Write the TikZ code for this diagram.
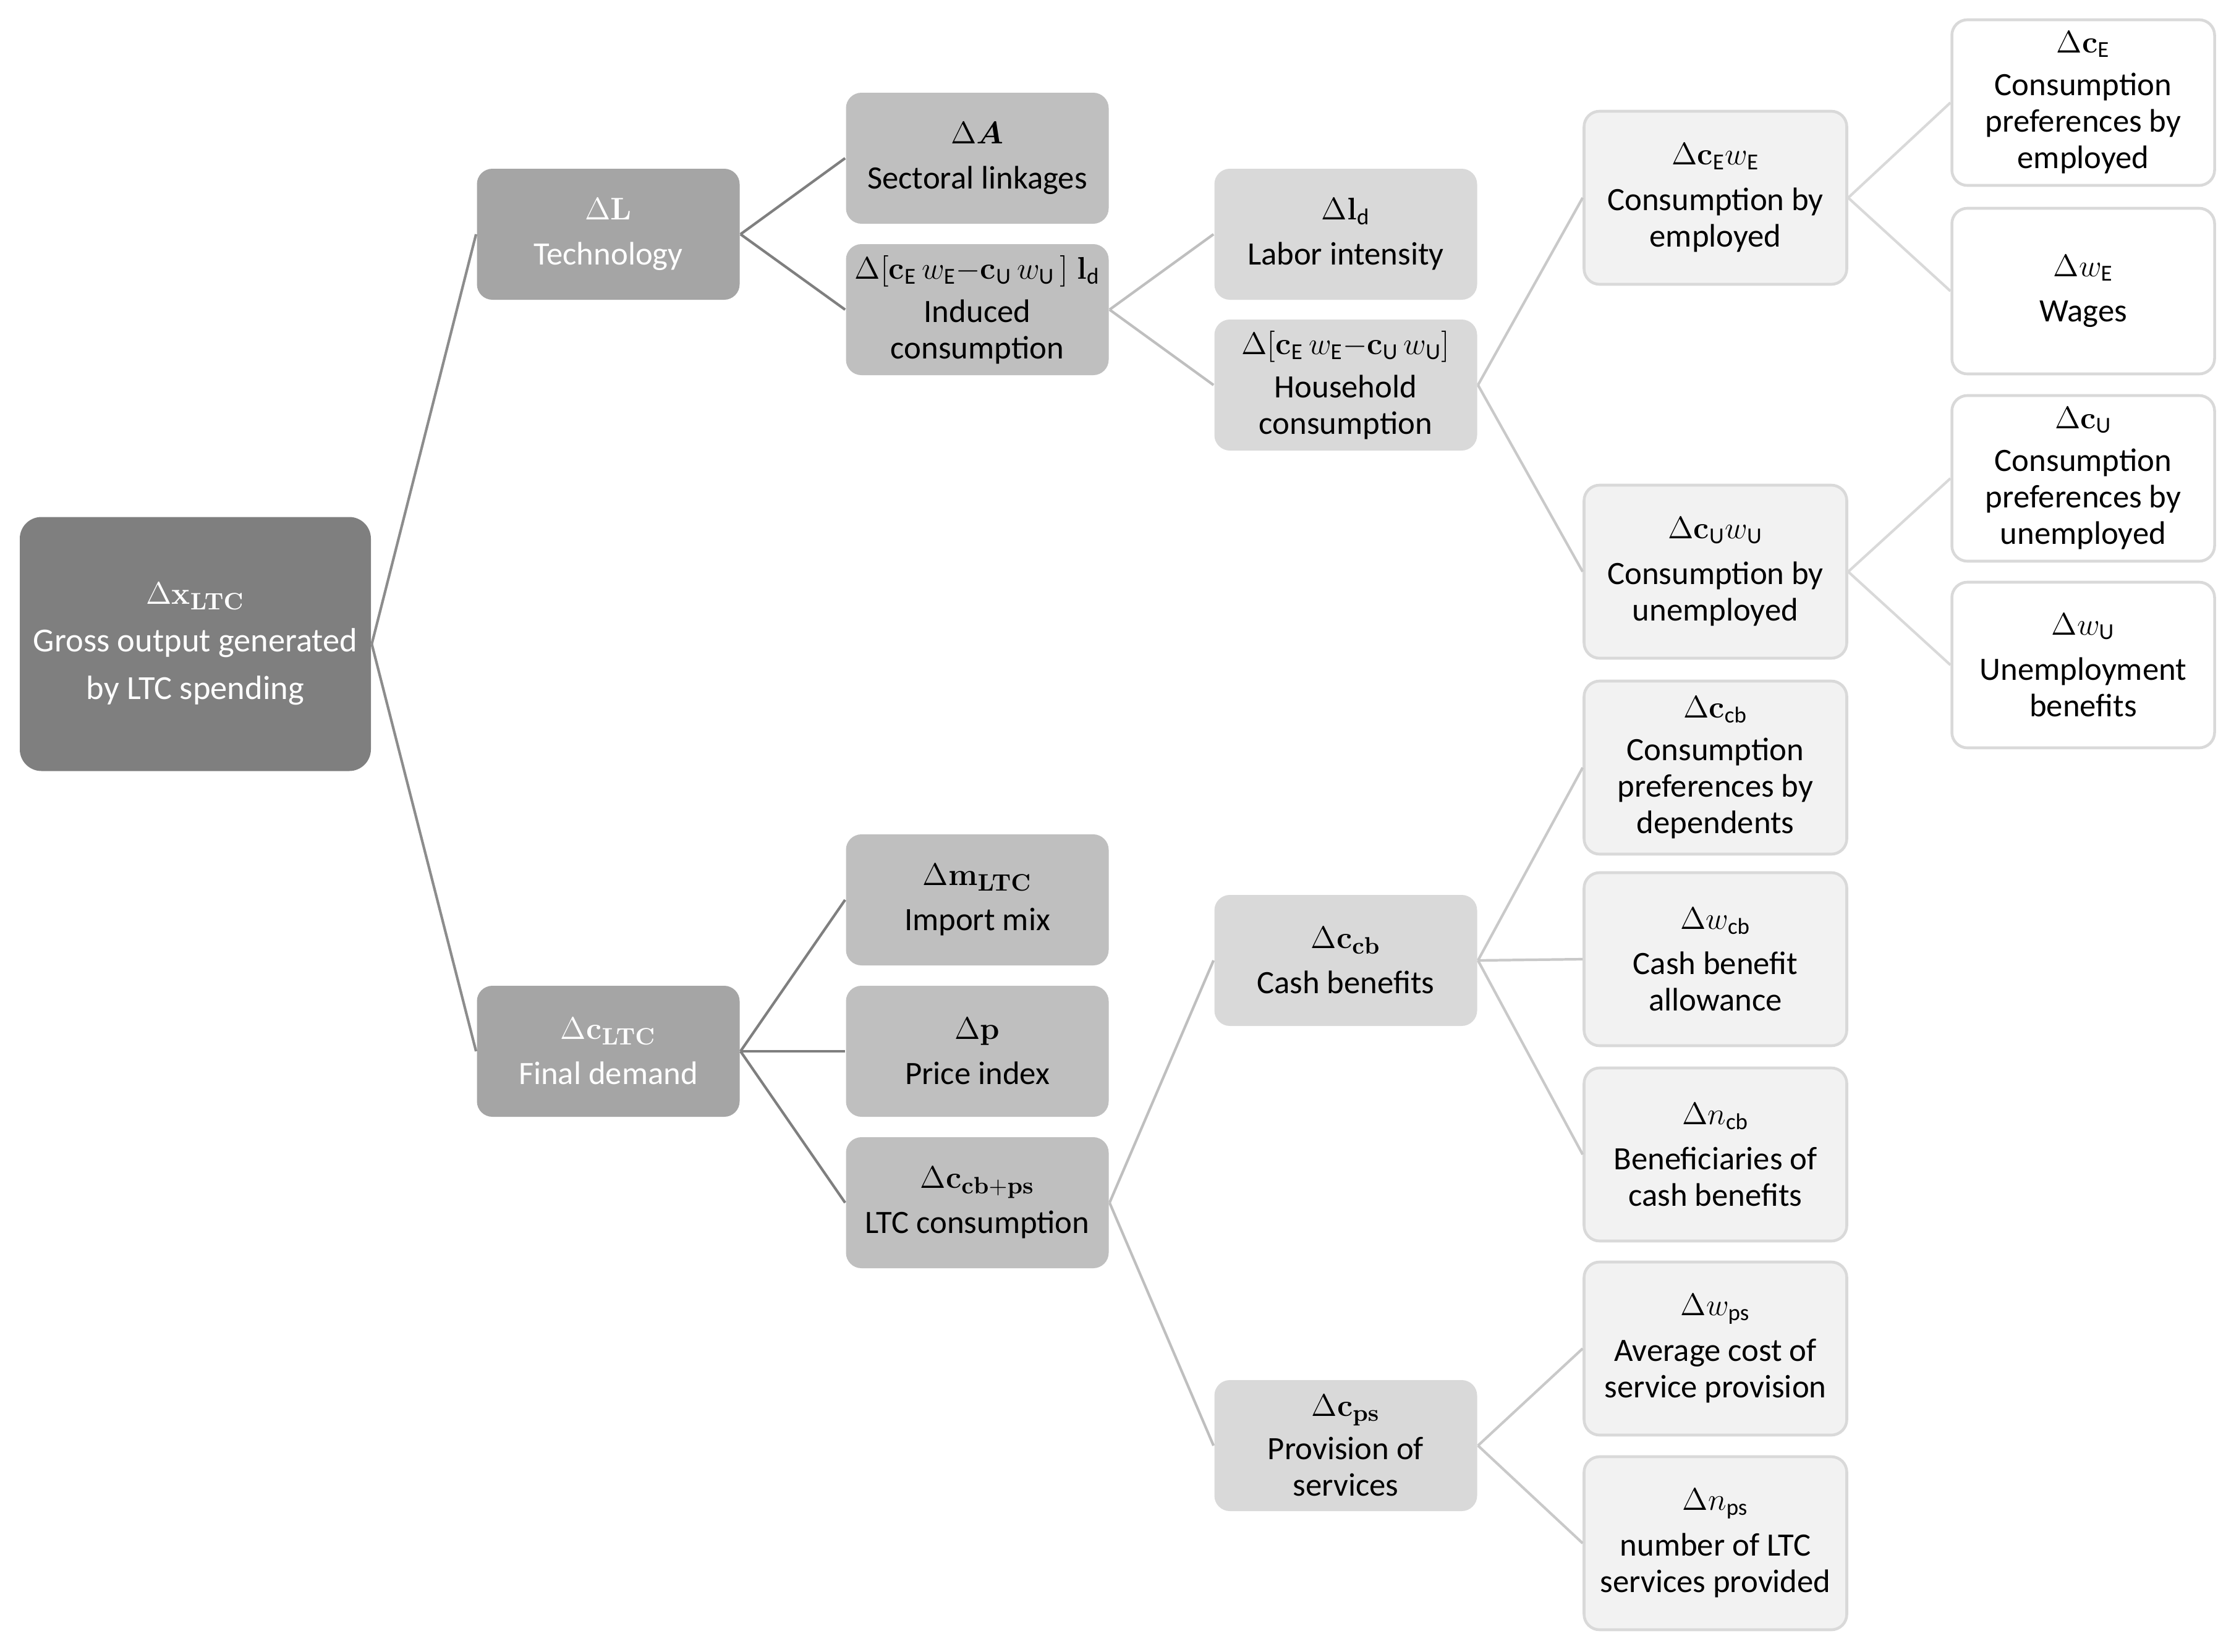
\documentclass[tikz,border=0pt]{standalone}
\usepackage{amsmath,bm}
\usepackage[no-math]{fontspec}
\setmainfont{Carlito}
\definecolor{rootgray}{HTML}{7F7F7F}
\definecolor{onegray}{HTML}{A5A5A5}
\definecolor{twogray}{HTML}{BFBFBF}
\definecolor{threegray}{HTML}{D9D9D9}
\definecolor{fourgray}{HTML}{F2F2F2}
\definecolor{rimgray}{HTML}{D9D9D9}
\begin{document}
\begin{tikzpicture}[
    box/.style={rectangle, rounded corners=0.25cm, minimum width=4.25cm, minimum height=2.12cm,
      align=center, inner sep=2pt, font=\fontsize{15}{16.8}\selectfont},
    rootbox/.style={box, fill=rootgray, text=white, minimum width=5.68cm, minimum height=4.11cm,
      rounded corners=0.35cm, font=\fontsize{15.5}{22}\selectfont},
    onebox/.style={box, fill=onegray, text=white},
    twobox/.style={box, fill=twogray},
    threebox/.style={box, fill=threegray},
    fourbox/.style={box, fill=fourgray, draw=rimgray, line width=1.3pt, minimum height=2.8cm},
    fivebox/.style={box, fill=white, draw=rimgray, line width=1.3pt, minimum height=2.68cm},
    link/.style={line width=1.2pt},
    thick
  ]
  \useasboundingbox (0,0) rectangle (36.22,-26.73);
  % root
  \node[rootbox] (x) at (3.16,-10.42) {$\Delta\mathbf{x}_{\mathbf{LTC}}$\\ Gross output generated\\ by LTC spending};
  % first level
  \node[onebox] (L) at (9.84,-3.79) {$\Delta\mathbf{L}$\\[4pt] Technology};
  \node[onebox] (cltc) at (9.84,-17.01) {$\Delta\mathbf{c}_{\mathbf{LTC}}$\\[4pt] Final demand};
  % second level
  \node[twobox] (A) at (15.81,-2.56) {$\Delta\bm{A}$\\[4pt] Sectoral linkages};
  \node[twobox] (ind) at (15.81,-5.01) {$\Delta[\mathbf{c}_\text{E}\,w_\text{E}{-}\mathbf{c}_\text{U}\,w_\text{U}\,]\;\mathbf{l}_\text{d}$\\[3pt] Induced\\ consumption};
  \node[twobox] (m) at (15.81,-14.56) {$\Delta\mathbf{m}_{\mathbf{LTC}}$\\[4pt] Import mix};
  \node[twobox] (p) at (15.81,-17.01) {$\Delta\mathbf{p}$\\[4pt] Price index};
  \node[twobox] (cbps) at (15.81,-19.46) {$\Delta\mathbf{c}_{\mathbf{cb+ps}}$\\[4pt] LTC consumption};
  % third level
  \node[threebox] (ld) at (21.77,-3.79) {$\Delta\mathbf{l}_\text{d}$\\[4pt] Labor intensity};
  \node[threebox] (hh) at (21.77,-6.23) {$\Delta[\mathbf{c}_\text{E}\,w_\text{E}{-}\mathbf{c}_\text{U}\,w_\text{U}]$\\[3pt] Household\\ consumption};
  \node[threebox] (ccb) at (21.77,-15.54) {$\Delta\mathbf{c}_{\mathbf{cb}}$\\[4pt] Cash benefits};
  \node[threebox] (cps) at (21.77,-23.39) {$\Delta\mathbf{c}_{\mathbf{ps}}$\\[3pt] Provision of\\ services};
  % fourth level
  \node[fourbox] (cewe) at (27.75,-3.20) {$\Delta\mathbf{c}_\text{E}w_\text{E}$\\[4pt] Consumption by\\ employed};
  \node[fourbox] (cuwu) at (27.75,-9.25) {$\Delta\mathbf{c}_\text{U}w_\text{U}$\\[4pt] Consumption by\\ unemployed};
  \node[fourbox] (pref) at (27.75,-12.42) {$\Delta\mathbf{c}_\text{cb}$\\[3pt] Consumption\\ preferences by\\ dependents};
  \node[fourbox] (wcb) at (27.75,-15.52) {$\Delta w_\text{cb}$\\[4pt] Cash benefit\\ allowance};
  \node[fourbox] (ncb) at (27.75,-18.68) {$\Delta n_\text{cb}$\\[4pt] Beneficiaries of\\ cash benefits};
  \node[fourbox] (wps) at (27.75,-21.82) {$\Delta w_\text{ps}$\\[4pt] Average cost of\\ service provision};
  \node[fourbox] (nps) at (27.75,-24.97) {$\Delta n_\text{ps}$\\[4pt] number of LTC\\ services provided};
  % fifth level
  \node[fivebox] (ce) at (33.70,-1.66) {$\Delta\mathbf{c}_\text{E}$\\[3pt] Consumption\\ preferences by\\ employed};
  \node[fivebox] (we) at (33.70,-4.71) {$\Delta w_\text{E}$\\[4pt] Wages};
  \node[fivebox] (cu) at (33.70,-7.74) {$\Delta\mathbf{c}_\text{U}$\\[3pt] Consumption\\ preferences by\\ unemployed};
  \node[fivebox] (wu) at (33.70,-10.76) {$\Delta w_\text{U}$\\[4pt] Unemployment\\ benefits};
  % connectors
  \draw[link, color=rootgray!90] (x.east) -- (L.west);
  \draw[link, color=rootgray!90] (x.east) -- (cltc.west);
  \draw[link, color=rootgray] (L.east) -- (A.west);
  \draw[link, color=rootgray] (L.east) -- (ind.west);
  \draw[link, color=rootgray] (cltc.east) -- (m.west);
  \draw[link, color=rootgray] (cltc.east) -- (p.west);
  \draw[link, color=rootgray] (cltc.east) -- (cbps.west);
  \draw[link, color=twogray] (ind.east) -- (ld.west);
  \draw[link, color=twogray] (ind.east) -- (hh.west);
  \draw[link, color=twogray] (cbps.east) -- (ccb.west);
  \draw[link, color=twogray] (cbps.east) -- (cps.west);
  \draw[link, color=twogray!85] (hh.east) -- (cewe.west);
  \draw[link, color=twogray!85] (hh.east) -- (cuwu.west);
  \draw[link, color=twogray!85] (ccb.east) -- (pref.west);
  \draw[link, color=twogray!85] (ccb.east) -- (wcb.west);
  \draw[link, color=twogray!85] (ccb.east) -- (ncb.west);
  \draw[link, color=twogray!85] (cps.east) -- (wps.west);
  \draw[link, color=twogray!85] (cps.east) -- (nps.west);
  \draw[link, color=rimgray] (cewe.east) -- (ce.west);
  \draw[link, color=rimgray] (cewe.east) -- (we.west);
  \draw[link, color=rimgray] (cuwu.east) -- (cu.west);
  \draw[link, color=rimgray] (cuwu.east) -- (wu.west);
\end{tikzpicture}
\end{document}
